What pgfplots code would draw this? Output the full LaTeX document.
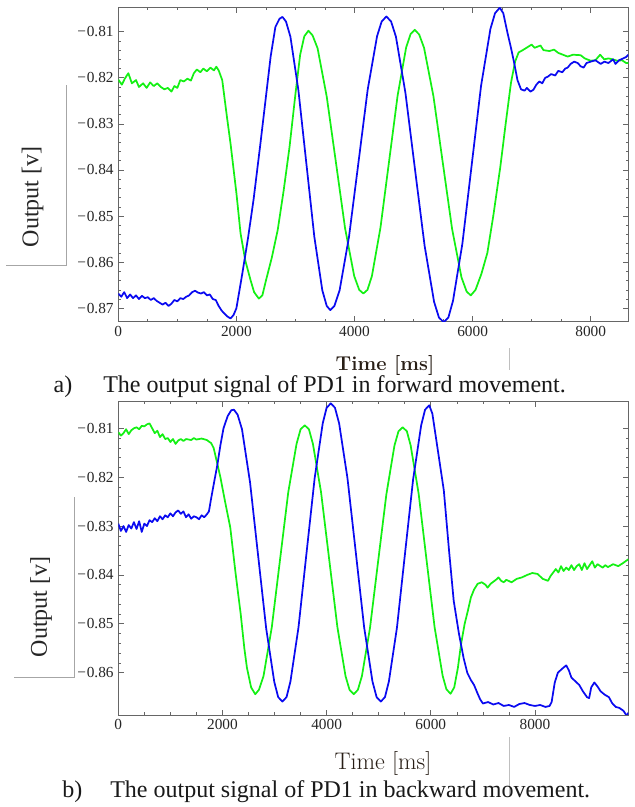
\documentclass[border=0pt]{standalone}
\usepackage{pgfplots}
\pgfplotsset{compat=1.18}
\usepackage{pgfplotstable}
\usepackage{fontspec}
\newfontfamily\timesfont{Liberation Serif}
\definecolor{sigblue}{RGB}{10,10,240}
\definecolor{siggreen}{RGB}{20,240,20}
\definecolor{labbrown}{RGB}{40,30,22}
\newcommand{\mn}{−\kern0.6pt}

\pgfplotstableread{
t v
0 -0.8204
60 -0.8215
110 -0.8202
170 -0.8190
230 -0.8212
300 -0.8205
350 -0.8220
420 -0.8212
480 -0.8222
540 -0.8210
600 -0.8218
660 -0.8212
720 -0.8220
780 -0.8225
840 -0.8222
900 -0.8230
950 -0.8218
1000 -0.8222
1050 -0.8205
1110 -0.8208
1170 -0.8202
1230 -0.8206
1280 -0.8190
1330 -0.8182
1390 -0.8188
1440 -0.8180
1500 -0.8186
1560 -0.8178
1620 -0.8184
1660 -0.8176
1700 -0.8184
1760 -0.8205
1840 -0.8285
1900 -0.8342
2000 -0.8450
2070 -0.8537
2150 -0.8596
2240 -0.8639
2300 -0.8665
2380 -0.8679
2440 -0.8672
2500 -0.8640
2600 -0.8590
2700 -0.8530
2800 -0.8445
2900 -0.8350
3000 -0.8235
3080 -0.8150
3150 -0.8110
3220 -0.8098
3290 -0.8108
3375 -0.8136
3530 -0.8241
3685 -0.8383
3840 -0.8526
3995 -0.8630
4080 -0.8660
4150 -0.8668
4220 -0.8660
4295 -0.8630
4440 -0.8525
4585 -0.8382
4730 -0.8239
4875 -0.8134
4950 -0.8105
5020 -0.8096
5095 -0.8106
5178 -0.8135
5337 -0.8240
5495 -0.8384
5653 -0.8528
5812 -0.8633
5900 -0.8664
5970 -0.8672
6050 -0.8660
6150 -0.8625
6250 -0.8580
6350 -0.8500
6470 -0.8393
6560 -0.8300
6650 -0.8211
6720 -0.8165
6780 -0.8145
6850 -0.8140
6950 -0.8132
7000 -0.8128
7050 -0.8135
7150 -0.8130
7200 -0.8140
7300 -0.8142
7380 -0.8139
7450 -0.8146
7530 -0.8150
7610 -0.8154
7700 -0.8150
7830 -0.8151
7900 -0.8158
8000 -0.8163
8080 -0.8162
8160 -0.8150
8230 -0.8160
8300 -0.8158
8370 -0.8160
8450 -0.8163
8530 -0.8162
8600 -0.8168
8637 -0.8168
}\topgreen

\pgfplotstableread{
t v
0 -0.8668
50 -0.8675
100 -0.8665
150 -0.8678
200 -0.8670
250 -0.8678
300 -0.8672
350 -0.8680
400 -0.8673
450 -0.8678
500 -0.8676
550 -0.8682
600 -0.8678
650 -0.8684
700 -0.8688
750 -0.8692
800 -0.8688
850 -0.8695
900 -0.8690
950 -0.8682
1000 -0.8685
1050 -0.8678
1100 -0.8680
1150 -0.8675
1200 -0.8672
1250 -0.8665
1300 -0.8662
1350 -0.8666
1400 -0.8668
1450 -0.8665
1500 -0.8672
1550 -0.8670
1600 -0.8680
1650 -0.8682
1700 -0.8695
1750 -0.8705
1800 -0.8712
1850 -0.8718
1900 -0.8722
1950 -0.8715
2000 -0.8700
2100 -0.8625
2200 -0.8545
2290 -0.8465
2400 -0.8350
2460 -0.8285
2580 -0.8154
2660 -0.8090
2730 -0.8072
2780 -0.8068
2840 -0.8078
2915 -0.8111
3050 -0.8227
3185 -0.8386
3320 -0.8545
3455 -0.8661
3530 -0.8695
3590 -0.8704
3660 -0.8695
3748 -0.8661
3907 -0.8545
4065 -0.8386
4223 -0.8226
4382 -0.8110
4460 -0.8078
4540 -0.8067
4620 -0.8078
4702 -0.8111
4863 -0.8233
5025 -0.8399
5187 -0.8564
5348 -0.8686
5430 -0.8720
5510 -0.8730
5590 -0.8720
5668 -0.8684
5827 -0.8560
5985 -0.8389
6143 -0.8218
6302 -0.8094
6380 -0.8060
6460 -0.8048
6520 -0.8060
6590 -0.8102
6650 -0.8135
6700 -0.8165
6760 -0.8205
6820 -0.8225
6880 -0.8228
6920 -0.8222
6980 -0.8230
7030 -0.8226
7080 -0.8215
7130 -0.8208
7180 -0.8212
7230 -0.8200
7270 -0.8198
7330 -0.8192
7400 -0.8195
7450 -0.8185
7520 -0.8188
7570 -0.8180
7610 -0.8178
7660 -0.8170
7720 -0.8165
7780 -0.8168
7830 -0.8175
7880 -0.8178
7930 -0.8168
8000 -0.8165
8080 -0.8162
8170 -0.8170
8230 -0.8165
8300 -0.8168
8380 -0.8160
8420 -0.8170
8480 -0.8162
8550 -0.8158
8600 -0.8155
8637 -0.8150
}\topblue

\pgfplotstableread{
t v
0 -0.8108
50 -0.8115
100 -0.8110
150 -0.8102
200 -0.8112
250 -0.8104
300 -0.8100
350 -0.8098
400 -0.8102
450 -0.8095
500 -0.8096
550 -0.8092
600 -0.8090
650 -0.8100
700 -0.8110
750 -0.8105
800 -0.8118
850 -0.8112
900 -0.8122
950 -0.8120
1000 -0.8128
1050 -0.8122
1100 -0.8132
1150 -0.8125
1200 -0.8122
1250 -0.8126
1300 -0.8122
1400 -0.8124
1450 -0.8120
1500 -0.8123
1600 -0.8121
1700 -0.8124
1750 -0.8128
1780 -0.8130
1830 -0.8140
1900 -0.8172
1960 -0.8200
2050 -0.8250
2150 -0.8303
2250 -0.8395
2350 -0.8480
2420 -0.8550
2470 -0.8590
2550 -0.8630
2630 -0.8644
2700 -0.8635
2788 -0.8607
2947 -0.8507
3105 -0.8369
3263 -0.8231
3422 -0.8132
3500 -0.8102
3580 -0.8094
3660 -0.8102
3737 -0.8132
3893 -0.8231
4050 -0.8369
4207 -0.8507
4363 -0.8607
4440 -0.8635
4520 -0.8644
4600 -0.8635
4677 -0.8607
4833 -0.8508
4990 -0.8371
5147 -0.8235
5303 -0.8135
5380 -0.8106
5460 -0.8098
5540 -0.8106
5613 -0.8135
5767 -0.8234
5920 -0.8371
6073 -0.8507
6227 -0.8606
6300 -0.8634
6380 -0.8643
6450 -0.8630
6520 -0.8590
6580 -0.8542
6650 -0.8500
6710 -0.8474
6770 -0.8446
6830 -0.8430
6900 -0.8418
6980 -0.8415
7050 -0.8420
7090 -0.8426
7150 -0.8418
7250 -0.8410
7300 -0.8405
7350 -0.8412
7400 -0.8415
7450 -0.8410
7550 -0.8415
7650 -0.8408
7750 -0.8405
7850 -0.8400
7950 -0.8396
8050 -0.8398
8150 -0.8408
8250 -0.8412
8300 -0.8402
8350 -0.8395
8400 -0.8388
8450 -0.8395
8500 -0.8382
8550 -0.8392
8600 -0.8385
8650 -0.8390
8700 -0.8380
8750 -0.8390
8800 -0.8382
8850 -0.8378
8900 -0.8390
8950 -0.8376
9000 -0.8388
9050 -0.8380
9100 -0.8372
9150 -0.8385
9200 -0.8378
9300 -0.8385
9350 -0.8380
9400 -0.8384
9500 -0.8378
9600 -0.8382
9700 -0.8375
9792 -0.8368
}\botgreen

\pgfplotstableread{
t v
0 -0.8295
50 -0.8310
100 -0.8300
150 -0.8312
200 -0.8298
250 -0.8305
300 -0.8292
350 -0.8306
400 -0.8290
450 -0.8312
500 -0.8295
550 -0.8300
600 -0.8288
650 -0.8292
700 -0.8284
750 -0.8290
800 -0.8280
850 -0.8286
900 -0.8278
950 -0.8282
1000 -0.8274
1050 -0.8280
1100 -0.8272
1150 -0.8268
1200 -0.8275
1250 -0.8270
1300 -0.8282
1350 -0.8276
1400 -0.8285
1450 -0.8280
1500 -0.8282
1550 -0.8286
1600 -0.8278
1650 -0.8282
1700 -0.8276
1740 -0.8270
1780 -0.8245
1840 -0.8210
1900 -0.8176
1960 -0.8135
2020 -0.8100
2100 -0.8075
2170 -0.8063
2220 -0.8062
2290 -0.8072
2375 -0.8102
2530 -0.8211
2685 -0.8361
2840 -0.8510
2995 -0.8619
3070 -0.8650
3150 -0.8659
3230 -0.8650
3305 -0.8618
3460 -0.8507
3615 -0.8354
3770 -0.8202
3925 -0.8090
4000 -0.8058
4080 -0.8049
4160 -0.8058
4240 -0.8090
4400 -0.8202
4560 -0.8354
4720 -0.8507
4880 -0.8618
4960 -0.8650
5040 -0.8659
5120 -0.8650
5195 -0.8618
5350 -0.8508
5505 -0.8356
5660 -0.8205
5815 -0.8094
5890 -0.8062
5970 -0.8053
6030 -0.8070
6100 -0.8120
6250 -0.8227
6350 -0.8350
6440 -0.8453
6540 -0.8520
6630 -0.8570
6700 -0.8600
6770 -0.8615
6830 -0.8625
6900 -0.8643
6950 -0.8655
7000 -0.8663
7100 -0.8660
7200 -0.8665
7300 -0.8662
7400 -0.8668
7500 -0.8666
7600 -0.8670
7700 -0.8664
7800 -0.8662
7900 -0.8666
8000 -0.8668
8100 -0.8666
8200 -0.8670
8280 -0.8668
8320 -0.8660
8380 -0.8620
8440 -0.8600
8520 -0.8592
8600 -0.8585
8650 -0.8595
8700 -0.8610
8780 -0.8618
8850 -0.8625
8920 -0.8638
9000 -0.8650
9040 -0.8652
9080 -0.8630
9140 -0.8620
9200 -0.8628
9260 -0.8638
9340 -0.8645
9420 -0.8650
9480 -0.8662
9550 -0.8670
9620 -0.8672
9700 -0.8678
9760 -0.8688
9792 -0.8682
}\botblue

\pgfplotsset{
  sigaxis/.style={
    scale only axis,
    width=382.5pt,
    axis line style={draw=black!60, line width=0.6pt},
    tick style={draw=black!60, line width=0.5pt},
    major tick length=4pt,
    minor tick length=2pt,
    tick align=inside,
    xtick pos=both, ytick pos=both,
    xtick={0,2000,4000,6000,8000},
    xticklabels={0,2000,4000,6000,8000},
    minor x tick num=3,
    minor y tick num=4,
    xmin=0,
    tick label style={font=\fontsize{11.5}{13}\timesfont, text=black!85},
    clip=true,
  },
  sigline/.style={line width=1.3pt, no markers, line join=round},
}

\begin{document}
\begin{tikzpicture}
\path[use as bounding box] (0,0) rectangle (476.25pt,605.25pt);

% top panel
\begin{axis}[sigaxis, at={(88.725pt,363.975pt)}, anchor=south west,
  height=235.8pt, xmax=8637, ymin=-0.87291, ymax=-0.80471,
  ytick={-0.87,-0.86,-0.85,-0.84,-0.83,-0.82,-0.81},
  yticklabels={\mn0.87,\mn0.86,\mn0.85,\mn0.84,\mn0.83,\mn0.82,\mn0.81}]
\addplot[sigline, color=siggreen] table[x=t,y=v] {\topgreen};
\addplot[sigline, color=sigblue] table[x=t,y=v] {\topblue};
\end{axis}

% bottom panel
\begin{axis}[sigaxis, at={(88.725pt,69pt)}, anchor=south west,
  height=234.975pt, xmax=9792, ymin=-0.86865, ymax=-0.80456,
  ytick={-0.86,-0.85,-0.84,-0.83,-0.82,-0.81},
  yticklabels={\mn0.86,\mn0.85,\mn0.84,\mn0.83,\mn0.82,\mn0.81}]
\addplot[sigline, color=siggreen] table[x=t,y=v] {\botgreen};
\addplot[sigline, color=sigblue] table[x=t,y=v] {\botblue};
\end{axis}

% decorative grey lines
\draw[black!35, line width=0.5pt] (4.5pt,406.5pt) -- (49.5pt,406.5pt) -- (49.5pt,541.5pt);
\draw[black!35, line width=0.5pt] (10.5pt,97.5pt) -- (55.5pt,97.5pt) -- (55.5pt,232.5pt);
\draw[black!25, line width=0.5pt] (381.75pt,328pt) -- (381.75pt,344.25pt);
\draw[black!25, line width=0.5pt] (381.75pt,7.5pt) -- (381.75pt,52.5pt);

% axis labels
\node[rotate=90, font=\fontsize{18}{20}\timesfont, text=black!85] at (24.5pt,457.5pt) {Output [v]};
\node[rotate=90, font=\fontsize{18}{20}\timesfont, text=black!85] at (30.75pt,150pt) {Output [v]};
\node[anchor=base, inner sep=0pt, font=\fontsize{15}{18}\selectfont\bfseries, text=labbrown] at (288.75pt,327pt) {Time [ms]};
\node[anchor=base, inner sep=0pt, font=\fontsize{18}{20}\selectfont, text=labbrown] at (287.25pt,27.75pt) {Time [ms]};

% captions
\node[anchor=base west, inner sep=0pt, font=\fontsize{18}{20}\timesfont, text=black!90] at (40pt,310.5pt) {a)};
\node[anchor=base west, inner sep=0pt, font=\fontsize{18}{20}\timesfont, text=black!90] at (77.25pt,310.5pt) {The output signal of PD1 in forward movement.};
\node[anchor=base west, inner sep=0pt, font=\fontsize{18}{20}\timesfont, text=black!90] at (46.5pt,6.75pt) {b)};
\node[anchor=base west, inner sep=0pt, font=\fontsize{18}{20}\timesfont, text=black!90] at (82.5pt,6.75pt) {The output signal of PD1 in backward movement.};
\end{tikzpicture}
\end{document}
